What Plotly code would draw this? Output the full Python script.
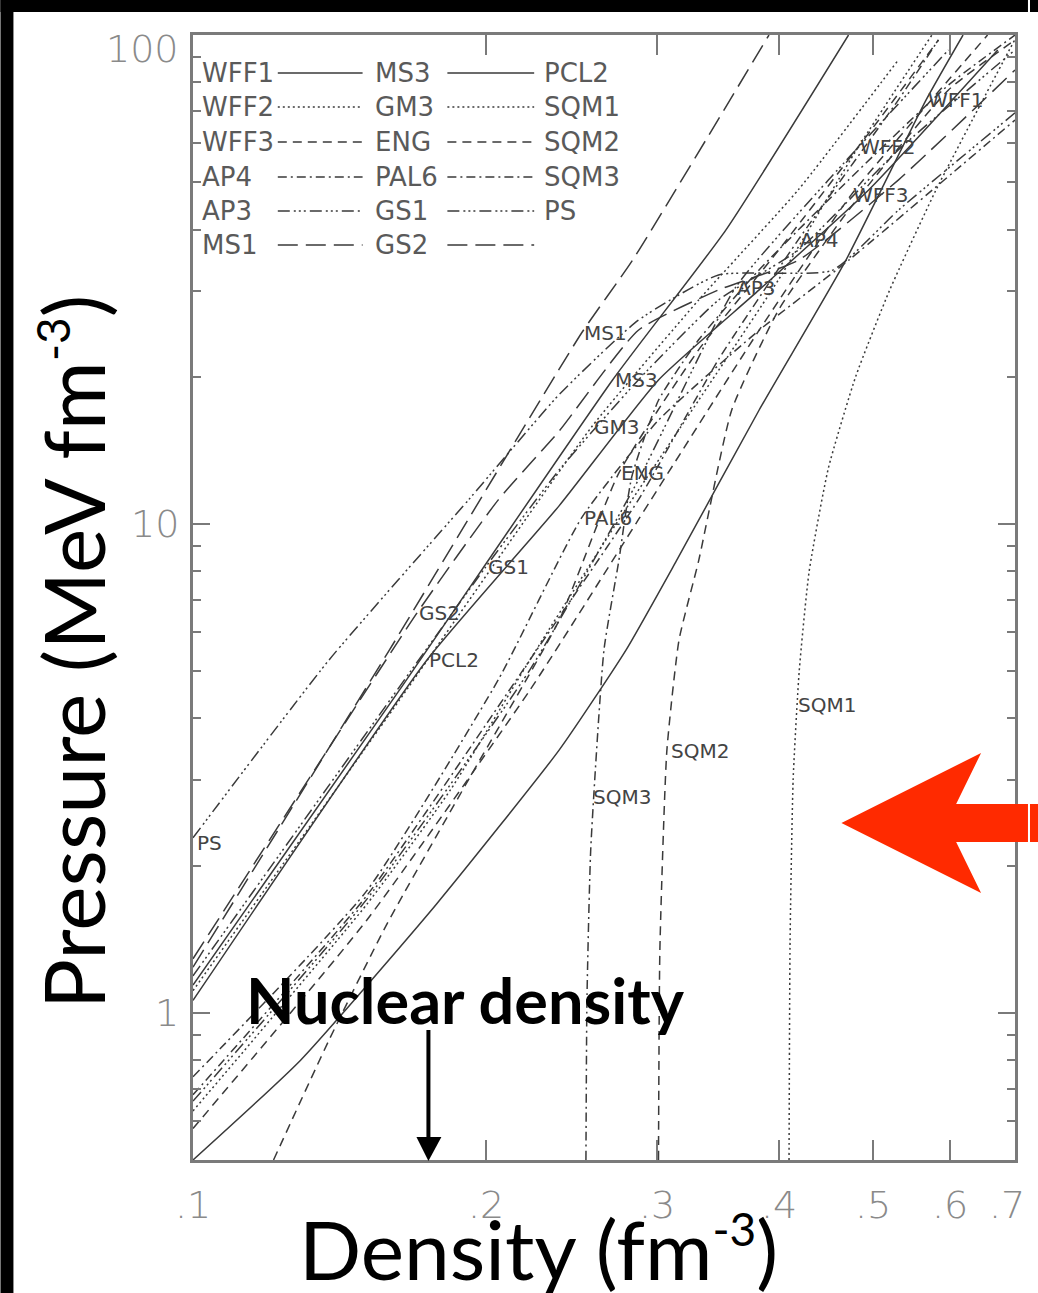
import math
import plotly.graph_objects as go

# ---- equations of state: baryon density (fm^-3) vs pressure (MeV fm^-3) ----
wff1_n = [0.100, 0.129, 0.178, 0.238, 0.279, 0.314, 0.382, 0.469, 0.567, 0.619]
wff1_p = [0.50, 0.80, 1.67, 3.45, 5.54, 8.4, 17.1, 34.6, 73.6, 100]

wff2_n = [0.100, 0.151, 0.184, 0.222, 0.274, 0.331, 0.400, 0.483, 0.575]
wff2_p = [0.63, 1.67, 2.86, 5.27, 10.2, 17.9, 31.6, 59.0, 100]

wff3_n = [0.100, 0.151, 0.222, 0.287, 0.382, 0.475, 0.598, 0.656]
wff3_p = [0.58, 1.55, 4.57, 10.2, 24.9, 47.1, 80.9, 100]

ap4_n = [0.100, 0.151, 0.222, 0.287, 0.347, 0.419, 0.531, 0.584]
ap4_p = [0.68, 1.74, 5.27, 11.2, 21.7, 38.1, 73.6, 97.7]

ap3_n = [0.100, 0.151, 0.222, 0.287, 0.361, 0.450, 0.598]
ap3_p = [0.66, 1.71, 5.03, 12.3, 30.4, 50.5, 93.2]

ms1_n = [0.100, 0.159, 0.251, 0.283, 0.391]
ms1_p = [1.24, 5.5, 24.6, 34.6, 100]

ms3_n = [0.100, 0.163, 0.270, 0.353, 0.472]
ms3_p = [1.14, 4.57, 19.7, 39.9, 100]

gm3_n = [0.100, 0.163, 0.257, 0.331, 0.419, 0.531]
gm3_p = [1.11, 4.36, 15.8, 28.7, 48.2, 88.9]

eng_n = [0.121, 0.138, 0.158, 0.192, 0.238, 0.274, 0.331, 0.400, 0.507, 0.584]
eng_p = [0.50, 0.88, 1.51, 3.0, 6.36, 12.7, 22.7, 36.3, 67.0, 97.7]

pal6_n = [0.100, 0.151, 0.206, 0.251, 0.301, 0.382, 0.472, 0.700]
pal6_p = [0.74, 1.78, 4.8, 10.3, 16.3, 24.9, 34.6, 67.0]

gs1_n = [0.100, 0.200, 0.238, 0.287, 0.347, 0.419, 0.531, 0.700]
gs1_p = [1.19, 8.17, 12.9, 19.7, 28.7, 36.3, 58.2, 93.2]

gs2_n = [0.100, 0.170, 0.206, 0.238, 0.287, 0.347, 0.419, 0.531, 0.700]
gs2_p = [1.29, 6.58, 11.2, 15.5, 24.9, 30.1, 34.6, 50.5, 84.8]

pcl2_n = [0.100, 0.174, 0.238, 0.301, 0.382, 0.495, 0.672]
pcl2_p = [1.06, 5.27, 10.9, 19.7, 30.1, 48.2, 93.2]

sqm1_n = [0.410, 0.411, 0.414, 0.420, 0.430, 0.450, 0.480, 0.520, 0.580, 0.640, 0.700]
sqm1_p = [0.50, 1.4, 3.0, 5.0, 8.0, 13.0, 20.0, 30.0, 48.0, 70.0, 98.0]

sqm2_n = [0.301, 0.302, 0.307, 0.316, 0.331, 0.358, 0.400, 0.472, 0.598, 0.700]
sqm2_p = [0.50, 1.35, 3.43, 5.79, 8.4, 17.1, 27.4, 43.8, 77.2, 97.7]

sqm3_n = [0.2535, 0.2541, 0.2564, 0.2646, 0.274, 0.2826, 0.301, 0.331, 0.3815, 0.472, 0.598, 0.700]
sqm3_p = [0.50, 1.06, 2.16, 5.54, 8.4, 12.5, 17.9, 23.8, 33.0, 50.5, 79.0, 100]

ps_n = [0.100, 0.138, 0.192, 0.238, 0.287, 0.347, 0.454, 0.531, 0.700]
ps_p = [2.28, 5.27, 11.2, 18.4, 26.1, 32.3, 33.0, 43.8, 69.3]

# ---- curve labels drawn inside the axes ----
label_names = ["WFF1", "WFF2", "WFF3", "AP4", "AP3", "MS1", "MS3", "GM3", "ENG",
               "PAL6", "GS1", "GS2", "PCL2", "SQM1", "SQM2", "SQM3", "PS"]
label_n = [0.567, 0.483, 0.475, 0.419, 0.361, 0.251, 0.270, 0.257, 0.274,
           0.251, 0.200, 0.170, 0.174, 0.417, 0.3085, 0.2564, 0.1005]
label_p = [73.6, 59.0, 47.1, 38.1, 30.4, 24.6, 19.7, 15.8, 12.7,
           10.3, 8.17, 6.58, 5.27, 4.27, 3.43, 2.76, 2.22]

# ---- axis ticks ----
x_tickvals = [0.1, 0.2, 0.3, 0.4, 0.5, 0.6, 0.7]
x_ticktext = [".1", ".2", ".3", ".4", ".5", ".6", ".7"]
y_tickvals = [1, 10, 100]
y_ticktext = ["1", "10", "100"]
y_minorvals = [0.5, 0.6, 0.7, 0.8, 0.9, 2, 3, 4, 5, 6, 7, 8, 9,
               20, 30, 40, 50, 60, 70, 80, 90]

# ---- line styles ----
SOLID = "solid"
DOT = "2px,3px"
DASH = "9px,6px"
DASHDOT = "9px,4px,2px,4px"
DASH3DOT = "12px,4px,2px,3px,2px,3px,2px,4px"
LONGDASH = "20px,8px"

curves = [
    ("WFF1", wff1_n, wff1_p, SOLID),
    ("WFF2", wff2_n, wff2_p, DOT),
    ("WFF3", wff3_n, wff3_p, DASH),
    ("AP4", ap4_n, ap4_p, DASHDOT),
    ("AP3", ap3_n, ap3_p, DASH3DOT),
    ("MS1", ms1_n, ms1_p, LONGDASH),
    ("MS3", ms3_n, ms3_p, SOLID),
    ("GM3", gm3_n, gm3_p, DOT),
    ("ENG", eng_n, eng_p, DASH),
    ("PAL6", pal6_n, pal6_p, DASHDOT),
    ("GS1", gs1_n, gs1_p, DASH3DOT),
    ("GS2", gs2_n, gs2_p, LONGDASH),
    ("PCL2", pcl2_n, pcl2_p, SOLID),
    ("SQM1", sqm1_n, sqm1_p, DOT),
    ("SQM2", sqm2_n, sqm2_p, DASH),
    ("SQM3", sqm3_n, sqm3_p, DASHDOT),
    ("PS", ps_n, ps_p, DASH3DOT),
]

# legend grid: (name, dash) rows x columns
legend_rows = [
    [("WFF1", SOLID), ("MS3", SOLID), ("PCL2", SOLID)],
    [("WFF2", DOT), ("GM3", DOT), ("SQM1", DOT)],
    [("WFF3", DASH), ("ENG", DASH), ("SQM2", DASH)],
    [("AP4", DASHDOT), ("PAL6", DASHDOT), ("SQM3", DASHDOT)],
    [("AP3", DASH3DOT), ("GS1", DASH3DOT), ("PS", DASH3DOT)],
    [("MS1", LONGDASH), ("GS2", LONGDASH), None],
]

# figure canvas; the page adds a thin strip on the right of it
W, H = 1030, 1293
ML, MR, MT, MB = 193, 13, 35, 133
PW, PH = W - ML - MR, H - MT - MB


def px(x):
    return (x - ML) / PW


def py(y):
    return (H - MB - y) / PH


LINE_COLOR = "#3a3a3a"
AXIS_COLOR = "#7a7a7a"
TICK_GREY = "#8a8a8a"
RED = "#ff2a00"

fig = go.Figure()
for name, n, p, dash in curves:
    fig.add_trace(go.Scatter(
        x=n, y=p, mode="lines", name=name, showlegend=False,
        line=dict(color=LINE_COLOR, width=1.5, dash=dash, shape="spline", smoothing=0.5),
        hoverinfo="name",
    ))

annotations = []
for name, n, p in zip(label_names, label_n, label_p):
    annotations.append(dict(
        x=math.log10(n), y=math.log10(p), xref="x", yref="y", text=name,
        showarrow=False, xanchor="left", yanchor="middle",
        font=dict(family="DejaVu Sans", size=20, color="#444444"),
    ))

tick_font = dict(family="DejaVu Sans", size=38, color=TICK_GREY, weight=200)

# y tick labels (the top one sits just inside the frame)
for v, t in zip(y_tickvals, y_ticktext):
    annotations.append(dict(
        x=px(181), y=math.log10(v), xref="paper", yref="y", text=t,
        showarrow=False, xanchor="right", yanchor="middle",
        yshift=-14 if v == 100 else 0, font=tick_font,
    ))

# x tick labels (the last one kept inside the canvas)
for v, t in zip(x_tickvals, x_ticktext):
    last = v == x_tickvals[-1]
    annotations.append(dict(
        x=math.log10(v), y=py(1205), xref="x", yref="paper", text=t,
        showarrow=False, xanchor="right" if last else "center", yanchor="middle",
        xshift=12 if last else 0, font=tick_font,
    ))

shapes = []
# legend block
row_y = [73, 107, 142, 177, 211, 245]
name_x = [200, 373, 543]
seg_x = [(278, 363), (448, 535)]
for r, row in enumerate(legend_rows):
    for c, item in enumerate(row):
        if item is None:
            continue
        lname, ldash = item
        annotations.append(dict(
            x=px(name_x[c]), y=py(row_y[r]), xref="paper", yref="paper", text=lname,
            showarrow=False, xanchor="left", yanchor="middle",
            font=dict(family="DejaVu Sans", size=26, color="#5a5a5a"),
        ))
        if c < 2:
            x0, x1 = seg_x[c]
            shapes.append(dict(
                type="line", xref="paper", yref="paper",
                x0=px(x0), x1=px(x1), y0=py(row_y[r]), y1=py(row_y[r]),
                line=dict(color=LINE_COLOR, width=1.5, dash=ldash),
            ))

# axis titles
annotations.append(dict(
    x=px(72), y=py(652), xref="paper", yref="paper", textangle=-90,
    text="Pressure (MeV fm<sup><span style='font-size:46px'>-3</span></sup>)",
    showarrow=False, xanchor="center", yanchor="middle",
    font=dict(family="Lato", size=84, color="black"),
))
annotations.append(dict(
    x=px(539), y=py(1248), xref="paper", yref="paper",
    text="Density (fm<sup><span style='font-size:46px'>-3</span></sup>)",
    showarrow=False, xanchor="center", yanchor="middle",
    font=dict(family="Lato", size=82, color="black"),
))
# nuclear density marker
annotations.append(dict(
    x=px(466), y=py(999), xref="paper", yref="paper",
    text="<b>Nuclear density</b>", showarrow=False,
    xanchor="center", yanchor="middle",
    font=dict(family="Lato", size=63, color="black"),
))
shapes.append(dict(type="line", xref="paper", yref="paper",
                   x0=px(429), x1=px(429), y0=py(1030), y1=py(1140),
                   line=dict(color="black", width=4)))
shapes.append(dict(type="path", xref="paper", yref="paper",
                   path=f"M {px(417)},{py(1137)} L {px(442)},{py(1137)} L {px(429)},{py(1161)} Z",
                   fillcolor="black", line=dict(color="black", width=0)))

# red pointer arrow (shaft runs to the canvas edge)
pts = [(843, 823), (983, 753), (958, 804), (W, 804), (W, 842), (958, 842), (983, 893)]
path = "M " + " L ".join(f"{px(a)},{py(b)}" for a, b in pts) + " Z"
shapes.append(dict(type="path", xref="paper", yref="paper", path=path,
                   fillcolor=RED, line=dict(color=RED, width=0), layer="above"))

# black frame bands at top and left
shapes.append(dict(type="rect", xref="paper", yref="paper",
                   x0=px(0), x1=px(W), y0=py(12), y1=py(0),
                   fillcolor="black", line=dict(width=0)))
shapes.append(dict(type="rect", xref="paper", yref="paper",
                   x0=px(0), x1=px(13), y0=py(H), y1=py(0),
                   fillcolor="black", line=dict(width=0)))

fig.update_layout(
    width=W, height=H, autosize=False,
    margin=dict(l=ML, r=MR, t=MT, b=MB, pad=0),
    paper_bgcolor="white", plot_bgcolor="white",
    showlegend=False,
    annotations=annotations, shapes=shapes,
    xaxis=dict(
        type="log", range=[-1, math.log10(0.7)],
        tickmode="array", tickvals=x_tickvals, ticktext=x_ticktext,
        showticklabels=False,
        ticks="inside", ticklen=20, tickwidth=2, tickcolor=AXIS_COLOR,
        showline=True, linecolor=AXIS_COLOR, linewidth=3, mirror="allticks",
        showgrid=False, zeroline=False,
    ),
    yaxis=dict(
        type="log", range=[math.log10(0.5), 2],
        tickmode="array", tickvals=y_tickvals, ticktext=y_ticktext,
        showticklabels=False,
        ticks="inside", ticklen=17, tickwidth=2, tickcolor=AXIS_COLOR,
        showline=True, linecolor=AXIS_COLOR, linewidth=3, mirror="allticks",
        showgrid=False, zeroline=False,
        minor=dict(tickmode="array", tickvals=y_minorvals, ticks="inside",
                   ticklen=8, tickwidth=2, tickcolor=AXIS_COLOR, showgrid=False),
    ),
)

# page background continues the top band and the arrow shaft past the canvas edge
page_bg = (
    f"linear-gradient({RED},{RED}) no-repeat right 0 top 804px / 40px 38px, "
    "linear-gradient(black,black) no-repeat left 0 top 0 / 100% 12px, white"
)
fig.write_html(
    "out.html",
    config={"responsive": False},
    post_script="document.documentElement.style.overflow='hidden';"
                "document.body.style.margin='0';"
                f"document.documentElement.style.background='{page_bg}';",
)
